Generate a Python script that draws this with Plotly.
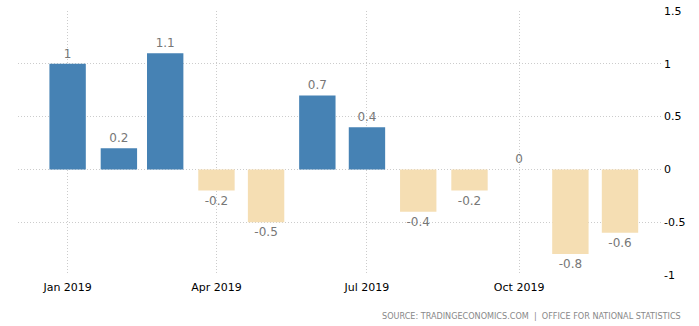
import plotly.graph_objects as go

months = ["2019-01-01", "2019-02-01", "2019-03-01", "2019-04-01", "2019-05-01", "2019-06-01",
          "2019-07-01", "2019-08-01", "2019-09-01", "2019-10-01", "2019-11-01", "2019-12-01"]
values = [1, 0.2, 1.1, -0.2, -0.5, 0.7, 0.4, -0.4, -0.2, 0, -0.8, -0.6]
labels = ["1", "0.2", "1.1", "-0.2", "-0.5", "0.7", "0.4", "-0.4", "-0.2", "0", "-0.8", "-0.6"]
y_ticks = [-1, -0.5, 0, 0.5, 1, 1.5]
y_ticktext = ["-1", "-0.5", "0", "0.5", "1", "1.5"]

colors = ["#4682B4" if v > 0 else "#F5DEB3" for v in values]
DAY = 86400000

fig = go.Figure(go.Bar(
    x=months, y=values, text=labels, textposition="outside",
    textfont=dict(color="#777777", size=12, family="DejaVu Sans"),
    marker=dict(color=colors, line=dict(width=0)),
    width=[22 * DAY] * len(values), cliponaxis=False,
))

fig.update_layout(
    width=699, height=326, margin=dict(l=18, r=36, t=11, b=51, autoexpand=False),
    paper_bgcolor="white", plot_bgcolor="white", showlegend=False,
    font=dict(family="DejaVu Sans", size=11, color="#000000"),
    xaxis=dict(type="date", range=["2018-12-02", "2019-12-27"], tick0="2019-01-01", dtick="M3",
               tickformat="%b %Y", showgrid=True, gridcolor="#cccccc", griddash="1px,2px",
               zeroline=False, ticks="", showline=False, automargin=False,
               ticklabelstandoff=4, tickfont=dict(size=11, color="#000")),
    yaxis=dict(side="right", range=[-1, 1.5], tickvals=y_ticks, ticktext=y_ticktext,
               showgrid=True, gridcolor="#cccccc", griddash="1px,2px", zeroline=False,
               ticks="", showline=False, automargin=False, tickfont=dict(size=11, color="#000")),
    annotations=[dict(text="SOURCE: TRADINGECONOMICS.COM  |  OFFICE FOR NATIONAL STATISTICS",
                      xref="paper", yref="paper", x=1.031, y=-0.155, xanchor="right", yanchor="middle",
                      showarrow=False, font=dict(size=8.1, color="#888888", family="DejaVu Sans"))],
)

fig.write_html("out.html")
